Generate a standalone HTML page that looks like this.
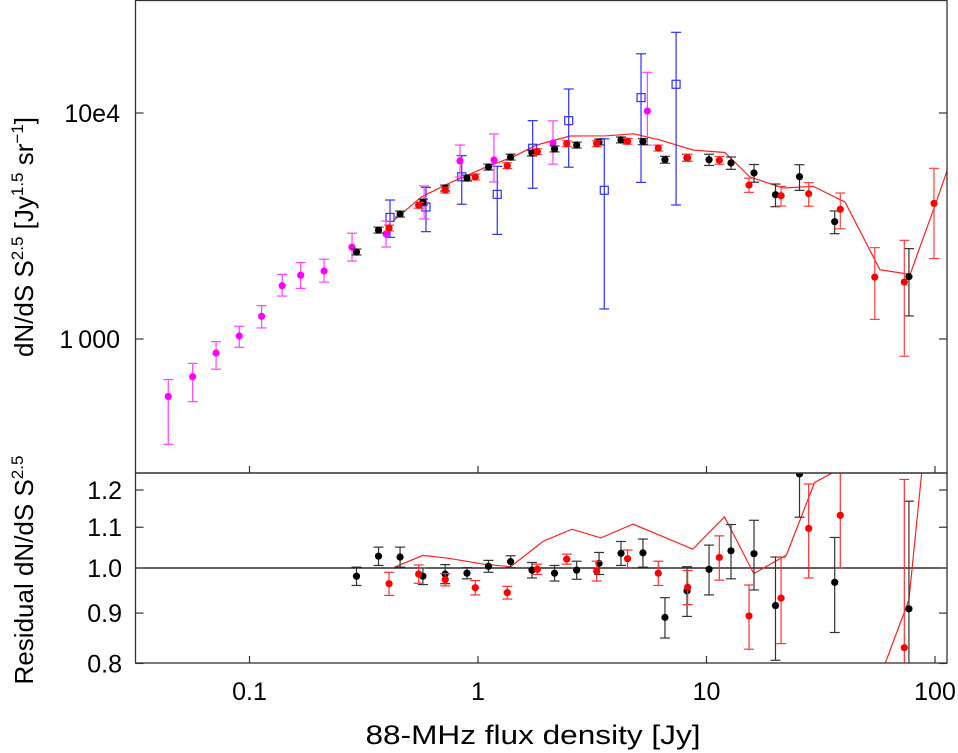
<!DOCTYPE html>
<html><head><meta charset="utf-8"><style>
html,body{margin:0;padding:0;background:#fff;overflow:hidden;width:958px;height:753px;}
svg{display:block;font-family:"Liberation Sans",Arial,sans-serif;}
</style></head><body>
<svg id="chart" width="958" height="753" viewBox="0 0 958 753" xmlns="http://www.w3.org/2000/svg">
<defs>
<clipPath id="clipTop"><rect x="135.5" y="0" width="811.5" height="473"/></clipPath>
<clipPath id="clipBot"><rect x="135.5" y="473" width="811.5" height="190"/></clipPath>
</defs>
<g id="topMarks" clip-path="url(#clipTop)"></g>
<g id="botMarks" clip-path="url(#clipBot)"></g>
<g id="axes"></g>
<text transform="translate(33,237) rotate(-90)" text-anchor="middle" font-size="26">dN/dS S<tspan dy="-10" font-size="17">2.5</tspan><tspan dy="10"> [Jy</tspan><tspan dy="-10" font-size="17">1.5</tspan><tspan dy="10"> sr</tspan><tspan dy="-10" font-size="17">−1</tspan><tspan dy="10">]</tspan></text>
<text transform="translate(33,570) rotate(-90)" text-anchor="middle" font-size="26">Residual dN/dS S<tspan dy="-10" font-size="17">2.5</tspan></text>
<text x="533" y="744" text-anchor="middle" font-size="27" textLength="335" lengthAdjust="spacingAndGlyphs">88-MHz flux density [Jy]</text>
</svg>
<script>
// ---- data ----
const blackS=[0.294,0.367,0.456,0.574,0.718,0.895,1.111,1.389,1.723,2.163,2.703,3.386,4.225,5.27,6.58,8.22,10.26,12.8,16.14,20.04,25.53,36.4,76.9];
const blackN=[2427,3034,3573,4036,4656,5156,5767,6383,6653,6934,7215,7447,7603,7468,6214,6339,6214,6011,5428,4350,5225,3304,1888];
const blackErr=[0.03,0.03,0.03,0.03,0.03,0.03,0.03,0.03,0.03,0.03,0.03,0.03,0.03,0.03,0.035,0.035,0.057,0.063,0.09,0.115,0.13,0.115,0.33];
const blackRes=[0.981,1.028,1.026,0.981,0.986,0.988,1.004,1.015,0.995,0.988,0.995,1.011,1.035,1.036,0.891,0.948,0.997,1.041,1.034,0.916,1.246,0.967,0.909];
const blackResErr=[0.021,0.022,0.024,0.019,0.022,0.013,0.014,0.014,0.018,0.018,0.021,0.026,0.029,0.034,0.042,0.055,0.058,0.066,0.084,0.11,0.12,0.107,0.26];

const redS=[0.408,0.550,0.719,0.973,1.343,1.818,2.445,3.306,4.515,6.15,8.27,11.38,15.35,21.2,28.0,38.5,54.5,73.4,99.0];
const redN=[3097,3908,4560,5213,5848,6745,7317,7317,7500,6998,6339,6176,4800,4305,4393,3749,1879,1786,3981];
const redErr=[0.03,0.03,0.03,0.03,0.03,0.03,0.03,0.03,0.03,0.03,0.035,0.04,0.072,0.1,0.12,0.18,0.35,0.53,0.43];
const redRes=[0.964,0.986,0.973,0.955,0.944,0.997,1.021,0.993,1.022,0.988,0.956,1.025,0.894,0.932,1.097,1.131,null,0.830,null];
const redResErr=[0.026,0.021,0.014,0.016,0.014,0.012,0.012,0.023,0.021,0.028,0.038,0.053,0.067,0.094,0.12,0.13,null,0.4,null];

const magS=[0.0441,0.0564,0.0714,0.0902,0.113,0.139,0.1675,0.212,0.281,0.396,0.581,0.834,1.175,2.129,5.51];
const magN=[557,681,867,1031,1260,1721,1915,1999,2548,2917,3998,6138,6200,7365,10200];
const magHi=[661,780,973,1138,1404,1931,2178,2254,2938,3326,4755,7215,8075,9230,15140];
const magLo=[342,528,735,919,1119,1549,1675,1786,2213,2553,3396,5213,4952,5940,7215];

const blueS=[0.412,0.592,0.849,1.214,1.735,2.494,3.57,5.17,7.36];
const blueN=[3451,3837,5224,4365,6982,9251,4550,11700,13400];
const blueHi=[4121,4688,6476,5810,9251,12770,7690,18280,22750];
const blueLo=[2818,2985,3947,2904,4645,5756,1358,4931,3917];

const modelS=[0.426,0.567,0.754,1.091,1.426,1.806,2.528,3.66,4.786,6.27,8.76,12.05,15.49,21.7,29.3,40.4,57.4,77.8,103.3,116];
const modelN=[3334,4256,4909,5781,6397,7215,7907,7925,8090,7586,6850,6688,5209,4656,4741,4036,2027,1931,4274,6010];

const modelResS=[0.432,0.574,0.744,1.062,1.389,1.932,2.576,3.452,4.77,8.71,11.99,16.1,22.4,29.7,40.4,48,55.7,76.9,100];
const modelRes=[1.002,1.030,1.023,1.009,1.003,1.065,1.095,1.073,1.108,1.045,1.127,0.987,1.031,1.221,1.27,null,0.76,0.928,1.7];

const xTicks=[0.1,1,10,100];
const xTickLabels=["0.1","1","10","100"];
const yTopTicks=[10000,1000];
const yTopTickLabels=["10e4","1\u2009000"];
const yBotTicks=[1.2,1.1,1.0,0.9,0.8];
const yBotTickLabels=["1.2","1.1","1.0","0.9","0.8"];

// ---- scales ----
const X0=135.5,X1=947;
function xs(v){return 478+228.5*Math.log10(v);}
function yTop(v){return 339-226*(Math.log10(v)-3);}
function yBot(r){return 568-985*Math.log10(r);}

const NS="http://www.w3.org/2000/svg";
function mk(tag,attrs,parent){const e=document.createElementNS(NS,tag);for(const k in attrs)e.setAttribute(k,attrs[k]);parent.appendChild(e);return e;}
const topG=document.getElementById('topMarks'),botG=document.getElementById('botMarks'),axG=document.getElementById('axes');

function errbar(g,x,y1,y2,color,name){
  const grp=mk('g',{stroke:color,'stroke-width':1.2,fill:'none'},g);
  
  
  mk('line',{x1:x,y1:y1,x2:x,y2:y2},grp);
  mk('line',{x1:x-5,y1:y1,x2:x+5,y2:y1},grp);
  mk('line',{x1:x-5,y1:y2,x2:x+5,y2:y2},grp);
}
function dot(g,x,y,color,name){
  const c=mk('circle',{cx:x,cy:y,r:3.6,fill:color},g);
  
  
}
function square(g,x,y,color,name){
  const r=mk('rect',{x:x-4,y:y-4,width:8,height:8,fill:'none',stroke:color,'stroke-width':1.2},g);
  
  
}
function polyline(g,S,V,f,color,name){
  let seg=[];const segs=[];
  for(let i=0;i<S.length;i++){ if(V[i]==null){if(seg.length)segs.push(seg);seg=[];continue;} seg.push(xs(S[i]).toFixed(1)+','+f(V[i]).toFixed(1)); }
  if(seg.length)segs.push(seg);
  segs.forEach(s=>{const p=mk('polyline',{points:s.join(' '),fill:'none',stroke:color,'stroke-width':1.2},g);
    
    });
}

polyline(topG,modelS,modelN,yTop,'#ff2020','model-line');
blueS.forEach((s,i)=>{const x=xs(s);errbar(topG,x,yTop(blueHi[i]),yTop(blueLo[i]),'#3030ff','blue-errorbar');square(topG,x,yTop(blueN[i]),'#3030ff','blue-point');});
magS.forEach((s,i)=>{const x=xs(s);errbar(topG,x,yTop(magHi[i]),yTop(magLo[i]),'#ff40ff','magenta-errorbar');dot(topG,x,yTop(magN[i]),'#ff00ff','magenta-point');});
blackS.forEach((s,i)=>{const x=xs(s);errbar(topG,x,yTop(blackN[i]*(1+blackErr[i])),yTop(blackN[i]*(1-blackErr[i])),'#333','black-errorbar');dot(topG,x,yTop(blackN[i]),'#000','black-point');});
redS.forEach((s,i)=>{const x=xs(s);errbar(topG,x,yTop(redN[i]*(1+redErr[i])),yTop(redN[i]*(1-redErr[i])),'#ff4040','red-errorbar');dot(topG,x,yTop(redN[i]),'#ff0000','red-point');});

const ref=mk('line',{x1:X0,y1:yBot(1),x2:X1,y2:yBot(1),stroke:'#000','stroke-width':1.3},botG);


polyline(botG,modelResS,modelRes,yBot,'#ff2020','model-residual-line');
blackS.forEach((s,i)=>{const x=xs(s);const r=blackRes[i],e=blackResErr[i];errbar(botG,x,yBot(r+e),yBot(r-e),'#333','black-residual-errorbar');dot(botG,x,yBot(r),'#000','black-residual-point');});
redS.forEach((s,i)=>{const r=redRes[i];if(r==null)return;const x=xs(s),e=redResErr[i];errbar(botG,x,yBot(r+e),yBot(Math.max(0.5,r-e)),'#ff3030','red-residual-errorbar');dot(botG,x,yBot(r),'#ff0000','red-residual-point');});

const f1=mk('rect',{x:X0,y:0.5,width:X1-X0,height:472.5,fill:'none',stroke:'#333','stroke-width':1.3},axG);


const f2=mk('rect',{x:X0,y:473,width:X1-X0,height:190,fill:'none',stroke:'#333','stroke-width':1.3},axG);


xTicks.forEach((v,i)=>{const x=xs(v);
  mk('line',{x1:x,y1:663,x2:x,y2:656,stroke:'#333','stroke-width':1.2},axG);
  mk('line',{x1:x,y1:473,x2:x,y2:466,stroke:'#333','stroke-width':1.2},axG);
  const t=mk('text',{x:x,y:700,'text-anchor':'middle','font-size':25},axG);t.textContent=xTickLabels[i];
  
  });
yTopTicks.forEach((v,i)=>{const y=yTop(v);
  mk('line',{x1:X0,y1:y,x2:X0+8,y2:y,stroke:'#333','stroke-width':1.2},axG);
  mk('line',{x1:X1,y1:y,x2:X1-8,y2:y,stroke:'#333','stroke-width':1.2},axG);
  const t=mk('text',{x:120,y:y+9,'text-anchor':'end','font-size':25},axG);t.textContent=yTopTickLabels[i];
  
  });
yBotTicks.forEach((v,i)=>{const y=yBot(v);
  mk('line',{x1:X0,y1:y,x2:X0+8,y2:y,stroke:'#333','stroke-width':1.2},axG);
  mk('line',{x1:X1,y1:y,x2:X1-8,y2:y,stroke:'#333','stroke-width':1.2},axG);
  const t=mk('text',{x:122,y:y+9,'text-anchor':'end','font-size':25},axG);t.textContent=yBotTickLabels[i];
  
  });
</script>
</body></html>
